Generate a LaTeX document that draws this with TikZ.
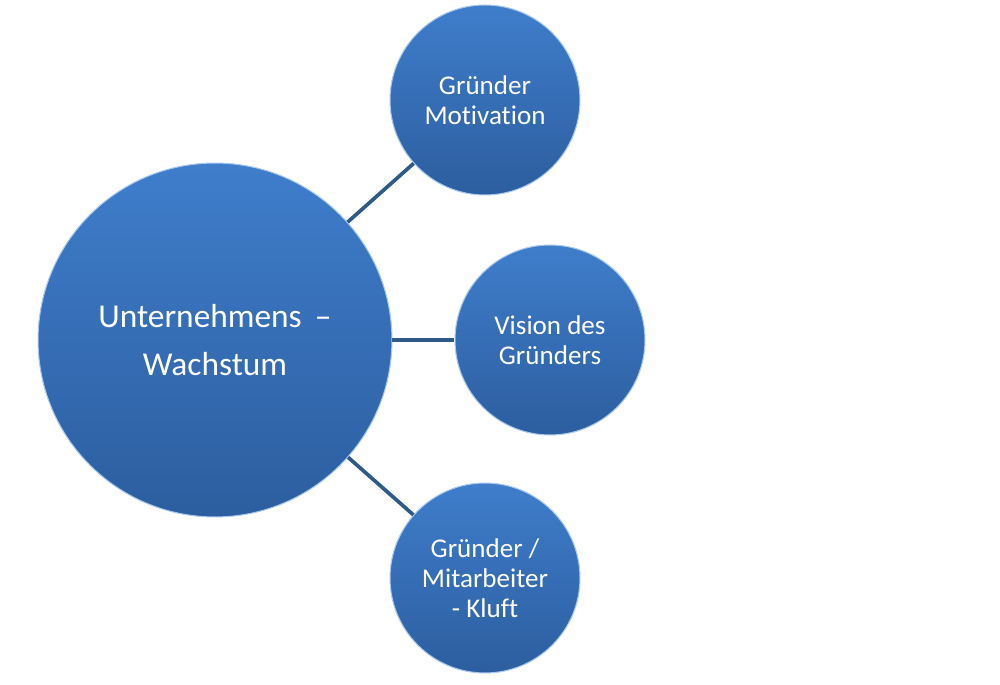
\documentclass[tikz,border=0pt]{standalone}
\usepackage{fontspec}
\setmainfont{Carlito}[Ligatures={NoCommon}]
\usepackage{xcolor}
\usepackage{tikz}
\usetikzlibrary{positioning}

\definecolor{blobtop}{HTML}{3F7DCB}
\definecolor{blobbot}{HTML}{2C5E9F}
\definecolor{rim}{HTML}{A9C8EE}
\definecolor{linkcol}{HTML}{2F5A88}

\tikzset{
  blob/.style={circle, inner sep=0pt, top color=blobtop, bottom color=blobbot,
    draw=rim, line width=0.6pt, text=white, align=center},
  bigblob/.style={blob, minimum size=7.08cm, font=\fontsize{19}{27}\selectfont},
  smallblob/.style={blob, minimum size=3.8cm, font=\fontsize{15.4}{17}\selectfont},
  link/.style={draw=linkcol, line width=2.1pt}
}

\begin{document}
\begin{tikzpicture}[x=0.02cm, y=-0.02cm]
        \useasboundingbox (0,0) rectangle (1000,685);
        % growth and its three drivers
        \node[bigblob] (growth) at (215,340) {Unternehmens \,--\\Wachstum};
        \node[smallblob] (motiv) at (485,100) {Gründer\\Motivation};
        \node[smallblob] (vision) at (550,340) {Vision des\\Gründers};
        \node[smallblob] (gap) at (485,578) {Gründer /\\Mitarbeiter\\- Kluft};

        \path[link]
        (growth) edge (motiv)
        (growth) edge (vision)
        (growth) edge (gap);
\end{tikzpicture}
\end{document}
